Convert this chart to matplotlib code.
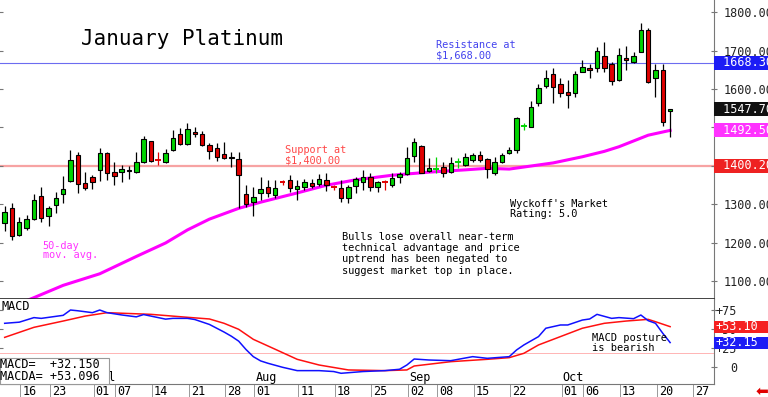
import numpy as np
import matplotlib
matplotlib.use("Agg")
import matplotlib.pyplot as plt
import matplotlib.transforms as mtrans
from matplotlib.patches import Rectangle

plt.rcParams['font.family'] = ['DejaVu Sans Mono', 'DejaVu Sans']

# ---- candles, one per trading day (index 0 = Jun 11) ----
opens = [1253, 1292, 1221, 1238, 1263, 1322, 1270, 1299, 1326, 1361,
         1429, 1355, 1371, 1390, 1435, 1384, 1385, 1389, 1385, 1411,
         1465, 1414.5, 1411, 1442, 1483, 1456, 1489, 1483, 1455, 1446,
         1431, 1424, 1417, 1326, 1307, 1331, 1346, 1325, 1358, 1364,
         1339, 1346, 1357, 1353, 1364, 1345, 1342, 1316, 1348, 1359,
         1372, 1346, 1358, 1351, 1371, 1379, 1426, 1452, 1388, 1392,
         1398, 1385, 1411, 1403, 1416, 1429, 1417, 1381, 1411, 1433,
         1442, 1504, 1502, 1563, 1609, 1638, 1612, 1593, 1589, 1645,
         1655, 1654, 1687, 1664, 1623, 1681, 1669, 1697, 1753, 1628,
         1649, 1544]
highs = [1296, 1303, 1268, 1273, 1327, 1346, 1296, 1333, 1374, 1442,
         1437, 1385, 1377, 1446, 1436, 1411, 1403, 1400, 1437, 1478,
         1466, 1437, 1443, 1494, 1498, 1511, 1501, 1490, 1459, 1459,
         1463, 1437, 1437, 1351, 1345, 1371, 1364, 1364, 1364, 1377,
         1364, 1365, 1365, 1379, 1381, 1351, 1364, 1351, 1372, 1390,
         1383, 1362, 1364, 1381, 1385, 1449, 1472, 1455, 1420, 1424,
         1411, 1423, 1420, 1433, 1435, 1439, 1420, 1424, 1435, 1449,
         1526, 1511, 1569, 1612, 1649, 1655, 1629, 1623, 1647, 1675,
         1664, 1710, 1723, 1671, 1706, 1713, 1697, 1771, 1758, 1664,
         1664, 1549]
lows = [1230, 1208, 1218, 1234, 1260, 1255, 1244, 1277, 1305, 1359,
        1331, 1338, 1339, 1362, 1364, 1351, 1359, 1365, 1383, 1407,
        1411, 1403, 1409, 1440, 1455, 1455, 1475, 1452, 1417, 1414,
        1417, 1397, 1290, 1294, 1270, 1312, 1320, 1316, 1351, 1333,
        1312, 1338, 1342, 1348, 1336, 1338, 1307, 1303, 1329, 1338,
        1336, 1333, 1338, 1346, 1355, 1377, 1411, 1381, 1385, 1381,
        1371, 1381, 1394, 1400, 1411, 1411, 1368, 1377, 1407, 1431,
        1433, 1494, 1500, 1557, 1602, 1563, 1578, 1550, 1578, 1643,
        1629, 1645, 1645, 1610, 1622, 1649, 1667, 1695, 1615, 1580,
        1505, 1475]
closes = [1281, 1218, 1254, 1263, 1312, 1266, 1290, 1318, 1339, 1416,
          1352, 1342, 1358, 1433, 1383, 1375, 1391, 1386, 1410, 1469,
          1414, 1414, 1435, 1472, 1456, 1495, 1483, 1454, 1440, 1423,
          1420, 1420, 1377, 1301, 1319, 1341, 1331, 1342, 1357.5, 1342,
          1348, 1359, 1348, 1365, 1351, 1344.5, 1316, 1345, 1365, 1371,
          1346, 1358, 1357.5, 1368, 1379, 1420, 1463, 1383, 1394, 1392.5,
          1381, 1407, 1411.5, 1423, 1429, 1416, 1391, 1411, 1429, 1442,
          1524, 1504.5, 1552, 1602, 1629, 1604, 1589, 1584, 1638, 1658,
          1649, 1699, 1655, 1621, 1688, 1675, 1687, 1753, 1619, 1649,
          1515, 1547.7]

# 50-day moving average, read at these days
ma_days = [0, 4, 8, 13, 18, 22, 25, 28, 32, 35, 40, 44, 48, 53, 58, 63,
           66, 69, 72, 75, 79, 82, 84, 86, 88, 91]
ma_vals = [1027, 1058, 1090, 1120, 1165, 1200, 1234, 1262, 1290, 1306,
           1330, 1350, 1364, 1376, 1384, 1390, 1394, 1392, 1400, 1408,
           1424, 1438, 1450, 1465, 1480, 1492.5]

# MACD (blue) and its average (red)
macd_days = [0, 2, 4, 5, 8, 9, 10, 12, 13, 14, 16, 18, 19, 22, 23, 25,
             26, 28, 29, 30, 31, 32, 33, 34, 35, 36, 38, 40, 43, 45, 46,
             49, 52, 54, 55, 56, 58, 61, 64, 66, 69, 70, 71, 73, 74, 76,
             77, 79, 80, 81, 83, 84, 86, 87, 88, 89, 90, 91]
macd_vals = [57.5, 59, 65, 64, 68, 75, 74, 71.5, 75, 71.5, 68.5, 66, 69,
             63, 64, 64, 62.5, 56, 51, 46, 40.5, 34, 23, 13.6, 8, 4.9,
             -0.4, -4.8, -4.8, -6, -8.3, -6, -4.8, -3, 2.6, 10.5, 9.2,
             8.3, 13.6, 11.4, 13.6, 22.4, 29, 40, 51, 55.3, 55.3, 61.8,
             63.2, 69.3, 64, 65, 63.6, 68.4, 61, 57.5, 44.3, 32.15]
macda_days = [0, 4, 8, 11, 14, 20, 25, 28, 30, 32, 34, 37, 40, 43, 47,
              52, 55, 56, 61, 66, 69, 71, 73, 76, 79, 82, 85, 88, 89, 91]
macda_vals = [39, 52.2, 60.5, 67, 71.5, 69.3, 65.4, 63.2, 57.5, 49.6,
              36.4, 23.3, 10.1, 2.6, -3.9, -4.8, -3.9, 1.3, 7, 10.1, 12.3,
              18, 29, 40, 51, 57.5, 60.5, 62.7, 59.6, 53.1]
macd_last = 32.150
macda_last = 53.096
macd_ref = 18

support = 1400.2
resistance = 1668.3

price_ticks = [1100, 1200, 1300, 1400, 1500, 1600, 1700, 1800]
macd_ticks = [0, 25, 50, 75]
macd_tick_labels = ['0', '+25', '+50', '+75']

tick_days = [3, 7, 13, 16, 21, 26, 31, 35, 41, 46, 51, 56, 60, 65, 70,
             77, 80, 85, 90, 95]
tick_labels = ['16', '23', '01', '07', '14', '21', '28', '01', '11', '18',
               '25', '02', '08', '15', '22', '01', '06', '13', '20', '27']
month_days = [13, 35, 56, 77]
month_labels = ['Jul', 'Aug', 'Sep', 'Oct']

W, H = 768, 397
GREEN = '#00d400'
RED = '#e00000'
SEP = 0.85      # label separator sits a bit left of the day's candle

fig = plt.figure(figsize=(W / 100, H / 100), dpi=100)
ax = fig.add_axes([0, 1 - 299 / H, 714 / W, 299 / H])
ax2 = fig.add_axes([0, 1 - 384 / H, 714 / W, 85 / H])


def px_text(x, y, s, **kw):
    # place text by pixel position (baseline) measured from the top-left
    kw.setdefault('va', 'baseline')
    kw.setdefault('ha', 'left')
    return fig.text(x / W, 1 - y / H, s, **kw)


def value_tag(axis, val, txt, fc, h_px, dx_px):
    lo, hi = axis.get_ylim()
    h = h_px * (hi - lo) / axis.bbox.height
    trans = mtrans.blended_transform_factory(axis.transAxes, axis.transData)
    axis.add_patch(Rectangle((1, val - h / 2), 0.2, h, transform=trans,
                             fc=fc, ec='none', clip_on=False, zorder=10))
    axis.annotate(txt, xy=(1, val), xycoords=('axes fraction', 'data'),
                  xytext=(dx_px * 0.72, 0), textcoords='offset points',
                  ha='left', va='center', color='white', fontsize=8.5,
                  annotation_clip=False, zorder=11)


# ---------------- price panel ----------------
ax.set_xlim(-0.64, 97.0)
ax.set_ylim(1054.5, 1831.2)

ax.axhline(support, color='#f7a3a3', lw=1.6, zorder=1)
ax.axhline(resistance, color='#6c6cf0', lw=0.8, zorder=1)
ax.plot(ma_days, ma_vals, color='#ff00ff', lw=2.2, zorder=2)

for i in range(len(opens)):
    o, hi, lo, c = opens[i], highs[i], lows[i], closes[i]
    col = GREEN if c >= o else RED
    if abs(c - o) < 1.5:
        ax.vlines(i, lo, hi, color=col, lw=0.9, zorder=3)
        ax.hlines(o, i - 0.4, i + 0.4, color=col, lw=1.4, zorder=4)
    else:
        ax.vlines(i, lo, hi, color='black', lw=0.9, zorder=3)
        ax.add_patch(Rectangle((i - 0.3, min(o, c)), 0.6, abs(c - o),
                               fc=col, ec='black', lw=0.8, zorder=4))

ax.set_xticks([])
ax.set_yticks(price_ticks)
ax.set_yticklabels(['%.2f' % t for t in price_ticks])
ax.tick_params(axis='y', left=True, right=True, direction='inout',
               length=4, width=0.8, color='#777', labelleft=False,
               labelright=True, labelsize=8.5, labelcolor='#222', pad=5)
for s in ['top', 'left']:
    ax.spines[s].set_visible(False)
ax.spines['right'].set_color('#777')
ax.spines['bottom'].set_color('#222')
ax.spines['bottom'].set_linewidth(1.2)

value_tag(ax, resistance, ' %.2f' % resistance, '#1c1cf5', 14, 2)
value_tag(ax, closes[-1], ' %.2f' % closes[-1], '#111111', 14, 2)
value_tag(ax, ma_vals[-1], ' %.2f' % ma_vals[-1], '#ff33ff', 14, 2)
value_tag(ax, support, ' %.2f' % support, '#ee2222', 14, 2)

# ---------------- MACD panel ----------------
ax2.set_xlim(-0.64, 97.0)
ax2.set_ylim(-22.4, 89.5)
ax2.axhline(macd_ref, color='#ffb4b4', lw=0.7, zorder=1)
ax2.plot(macda_days, macda_vals, color='#ff1010', lw=1.1, zorder=2)
ax2.plot(macd_days, macd_vals, color='#1010ff', lw=1.1, zorder=3)

ax2.set_yticks(macd_ticks)
ax2.set_yticklabels(macd_tick_labels)
ax2.tick_params(axis='y', left=True, right=True, direction='inout',
                length=4, width=0.8, color='#777', labelleft=False,
                labelright=True, labelsize=8.5, labelcolor='#222', pad=14.6)
for lab in ax2.get_yticklabels():
    lab.set_horizontalalignment('right')

sep_pos = [d - SEP for d in tick_days]
ax2.set_xticks(sep_pos)
ax2.tick_params(axis='x', direction='out', length=9.5, width=0.7,
                color='#999', labelbottom=False)
for s in ['top', 'left']:
    ax2.spines[s].set_visible(False)
ax2.spines['right'].set_color('#777')
ax2.spines['bottom'].set_color('#777')

for d, lab in zip(tick_days, tick_labels):
    ax2.annotate(lab, xy=(d - SEP, 0), xycoords=('data', 'axes fraction'),
                 xytext=(1.5, -0.5), textcoords='offset points',
                 ha='left', va='top', fontsize=8.5, annotation_clip=False)
for d, lab in zip(month_days, month_labels):
    ax2.annotate(lab, xy=(d - SEP, 0), xycoords=('data', 'axes fraction'),
                 xytext=(0.7, 0), textcoords='offset points',
                 ha='left', va='bottom', fontsize=8.5, annotation_clip=False)

value_tag(ax2, macda_last, '+%.2f' % macda_last, '#f52020', 12, 1.5)
value_tag(ax2, macd_last, '+%.2f' % macd_last, '#1c1cf5', 12, 1.5)

# legend box bottom-left of the MACD panel
fig.add_artist(Rectangle((0, 1 - 384 / H), 109 / W, 26 / H,
                         transform=fig.transFigure, fc='white', ec='#999',
                         lw=0.8, zorder=5))
px_text(0, 368, 'MACD=  +%.3f' % macd_last, fontsize=8.5, zorder=6)
px_text(0, 380, 'MACDA= +%.3f' % macda_last, fontsize=8.5, zorder=6)

# ---------------- annotations ----------------
px_text(81, 45, 'January Platinum', fontsize=15)
px_text(436, 48, 'Resistance at', fontsize=7.4, color='#4444ee')
px_text(436, 58.5, '$1,668.00', fontsize=7.4, color='#4444ee')
px_text(285, 153, 'Support at', fontsize=7.4, color='#ff4848')
px_text(285, 163.5, '$1,400.00', fontsize=7.4, color='#ff4848')
px_text(510, 206.8, "Wyckoff's Market", fontsize=7.4)
px_text(510, 216.8, 'Rating: 5.0', fontsize=7.4)
bulls = ['Bulls lose overall near-term',
         'technical advantage and price',
         'uptrend has been negated to',
         'suggest market top in place.']
for k, line in enumerate(bulls):
    px_text(342, 240.2 + 11.1 * k, line, fontsize=7.4)
px_text(42.7, 248.8, '50-day', fontsize=7.4, color='#ff33ff')
px_text(42.7, 258.3, 'mov. avg.', fontsize=7.4, color='#ff33ff')
px_text(1, 310, 'MACD', fontsize=8.5)
px_text(592.3, 340.8, 'MACD posture', fontsize=7.5)
px_text(592.3, 350.8, 'is bearish', fontsize=7.5)
px_text(762, 391.5, '\u2b05', fontsize=11, color='#e00000',
        family='DejaVu Sans', ha='center', va='center')

fig.savefig('out.png', dpi=100)
